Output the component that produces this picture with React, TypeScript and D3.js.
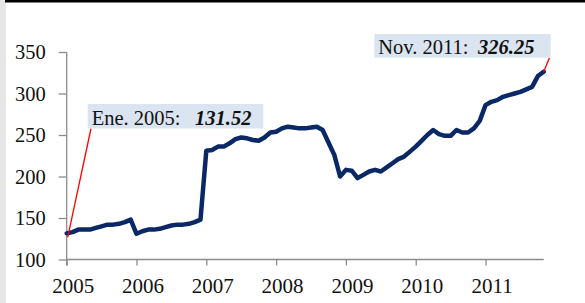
import * as d3 from 'd3';
import React, { useEffect, useRef } from 'react';

// monthly index values, Jan 2005 .. Nov 2011
const values2005 = [131.52, 133, 136, 136, 136, 138, 140, 142, 142, 143, 145, 148];
const values2006 = [131, 134, 136, 136, 137, 139, 141, 142, 142, 143, 145, 148];
const values2007 = [231, 232, 236, 236, 240, 245, 247, 246, 244, 243, 247, 253];
const values2008 = [254, 258, 260, 259, 258, 258, 259, 260, 256, 241, 226, 200];
const values2009 = [208, 207, 198, 202, 206, 208, 206, 211, 216, 221, 224, 230];
const values2010 = [236, 243, 250, 256, 251, 249, 249, 256, 253, 253, 258, 267];
const values2011 = [286, 290, 292, 296, 298, 300, 302, 305, 308, 321, 326.25];

const years = ['2005', '2006', '2007', '2008', '2009', '2010', '2011'];
const yTicks = [100, 150, 200, 250, 300, 350];

const firstLabel = 'Ene. 2005:';
const lastLabel = 'Nov. 2011:';

const series = [
  ...values2005, ...values2006, ...values2007, ...values2008,
  ...values2009, ...values2010, ...values2011
].map((v, i) => ({ m: i, v }));

const W = 585;
const H = 303;

export default function App() {
  const svgRef = useRef<SVGSVGElement>(null);

  useEffect(() => {
    const svg = d3.select(svgRef.current).html('');
    const font = '"Liberation Serif", "Times New Roman", serif';

    // frame bits
    svg.append('rect').attr('x', 0).attr('y', 0).attr('width', W).attr('height', H).attr('fill', '#fff');
    svg.append('rect').attr('x', 0).attr('y', 0).attr('width', 6).attr('height', H).attr('fill', '#e6e6e6');
    svg.append('rect').attr('x', 5).attr('y', 0).attr('width', W - 5).attr('height', 2.5).attr('fill', '#000');

    const x = d3.scaleLinear().domain([0, series.length - 1]).range([66.7, 543.7]);
    const y = d3.scaleLinear().domain([100, 350]).range([259.5, 52]);

    const axisColor = '#8c8c8c';

    // y axis
    const gy = svg.append('g')
      .attr('transform', `translate(${x(0)},0)`)
      .call(d3.axisLeft(y).tickValues(yTicks).tickSize(8).tickPadding(13).tickFormat(d3.format('d')));
    gy.select('.domain').attr('stroke', axisColor).attr('stroke-width', 1.3).attr('d', `M0,${y(350)}V265.5`);
    gy.selectAll('.tick line').attr('stroke', axisColor).attr('stroke-width', 1.3);
    gy.selectAll('.tick text')
      .attr('font-family', font).attr('font-size', 20.5).attr('fill', '#111').attr('dy', '0.34em');

    // x axis
    const xTickVals = years.map((_, i) => i * 12);
    const gx = svg.append('g')
      .attr('transform', `translate(0,${y(100)})`)
      .call(d3.axisBottom(x).tickValues(xTickVals).tickSize(6).tickPadding(9)
        .tickFormat((d) => years[(d as number) / 12]));
    gx.select('.domain').attr('stroke', axisColor).attr('stroke-width', 1.3)
      .attr('d', `M${x(0)},0H${x(series.length - 1)}`);
    gx.selectAll('.tick line').attr('stroke', axisColor).attr('stroke-width', 1.3);
    gx.selectAll('.tick text')
      .attr('font-family', font).attr('font-size', 21).attr('fill', '#111').attr('dx', 6).attr('dy', '0.9em');

    // line
    const line = d3.line<{ m: number; v: number }>()
      .x(d => x(d.m))
      .y(d => y(d.v));
    svg.append('path')
      .datum(series)
      .attr('d', line)
      .attr('fill', 'none')
      .attr('stroke', '#0a2866')
      .attr('stroke-width', 4.5)
      .attr('stroke-linejoin', 'round')
      .attr('stroke-linecap', 'round');

    const first = series[0];
    const last = series[series.length - 1];

    // callouts
    const callout = (bx: number, by: number, bw: number, bh: number, label: string, v: number,
                     valueX: number, lx1: number, ly1: number, lx2: number, ly2: number) => {
      svg.append('line')
        .attr('x1', lx1).attr('y1', ly1).attr('x2', lx2).attr('y2', ly2)
        .attr('stroke', '#ff0000').attr('stroke-width', 1.3);
      svg.append('rect').attr('x', bx).attr('y', by).attr('width', bw).attr('height', bh).attr('fill', '#dbe5f1');
      const t = svg.append('text')
        .attr('x', bx + 4).attr('y', by + bh - 3.5)
        .attr('font-family', font).attr('font-size', 20.5).attr('fill', '#111');
      t.append('tspan').text(label);
      t.append('tspan').attr('x', valueX).attr('font-weight', 'bold').attr('font-style', 'italic')
        .text(d3.format('.2f')(v));
    };

    callout(87.7, 104, 175.6, 24.5, firstLabel, first.v, 195,
      x(first.m) + 1, y(first.v) + 4, 91, 128.5);
    callout(374.3, 34, 176.4, 23.7, lastLabel, last.v, 478,
      x(last.m), y(last.v), 549.5, 57.7);
  }, []);

  return (
    <svg ref={svgRef} width={W} height={H}
      style={{ position: 'absolute', left: 0, top: 0, display: 'block' }} />
  );
}
